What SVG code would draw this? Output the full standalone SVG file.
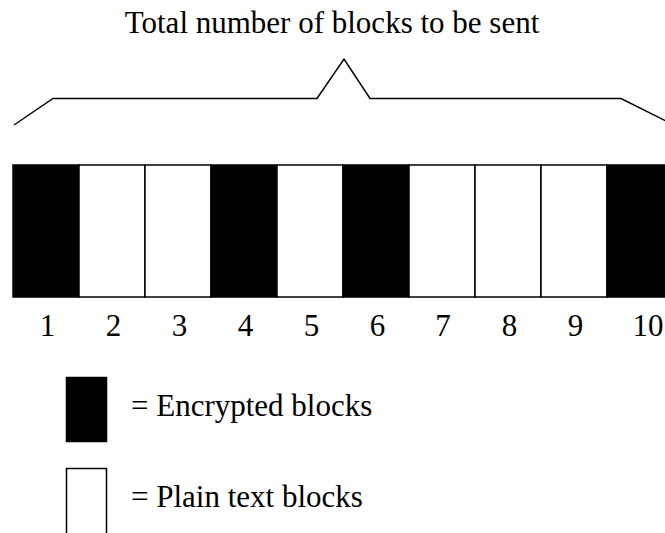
<svg xmlns="http://www.w3.org/2000/svg" width="665" height="533" viewBox="0 0 665 533">
<style>
text{font-family:"Liberation Serif","Times New Roman",serif;font-size:31px;fill:#000}
.num{text-anchor:middle}
.enc{fill:#000;stroke:#000;stroke-width:1.5}
.pln{fill:#fff;stroke:#000;stroke-width:1.5}
.brace{fill:none;stroke:#000;stroke-width:1.5}
</style>
<rect width="665" height="533" fill="#fff"/>
<g id="title"><text x="332" y="33" text-anchor="middle">Total number of blocks to be sent</text></g>
<g id="connectors"><polyline class="brace" points="14,125 53,98.5 317,98.5 344,59 370,98.5 621,98.5 666,121"/></g>
<g id="blocks">
<g id="block1"><rect class="enc" x="13" y="165" width="66" height="132"/><text class="num" x="47.5" y="336">1</text></g>
<g id="block2"><rect class="pln" x="79" y="165" width="66" height="132"/><text class="num" x="113.5" y="336">2</text></g>
<g id="block3"><rect class="pln" x="145" y="165" width="66" height="132"/><text class="num" x="179.5" y="336">3</text></g>
<g id="block4"><rect class="enc" x="211" y="165" width="66" height="132"/><text class="num" x="245.5" y="336">4</text></g>
<g id="block5"><rect class="pln" x="277" y="165" width="66" height="132"/><text class="num" x="311.5" y="336">5</text></g>
<g id="block6"><rect class="enc" x="343" y="165" width="66" height="132"/><text class="num" x="377.5" y="336">6</text></g>
<g id="block7"><rect class="pln" x="409" y="165" width="66" height="132"/><text class="num" x="443" y="336">7</text></g>
<g id="block8"><rect class="pln" x="475" y="165" width="66" height="132"/><text class="num" x="509.5" y="336">8</text></g>
<g id="block9"><rect class="pln" x="541" y="165" width="66" height="132"/><text class="num" x="575.5" y="336">9</text></g>
<g id="block10"><rect class="enc" x="607" y="165" width="66" height="132"/><text class="num" x="648" y="336">10</text></g>
</g>
<g id="legend-encrypted"><rect class="enc" x="66.5" y="377.5" width="40" height="64"/><text x="131" y="416">= Encrypted blocks</text></g>
<g id="legend-plain"><rect class="pln" x="66.5" y="468.5" width="40" height="70"/><text x="131" y="507">= Plain text blocks</text></g>
</svg>
